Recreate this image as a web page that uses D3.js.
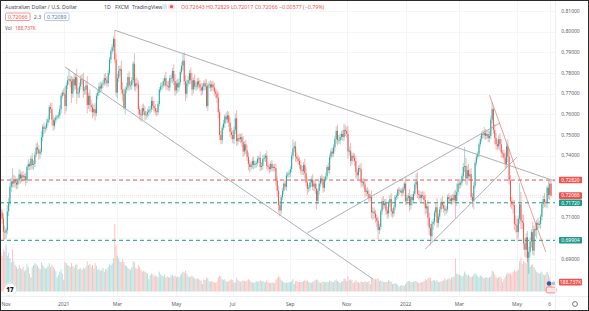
<!DOCTYPE html>
<html>
<head>
<meta charset="utf-8">
<script src="https://cdn.jsdelivr.net/npm/d3@7"></script>
<style>
  html, body { margin: 0; padding: 0; background: #fff; }
  svg { display: block; font-family: "Noto Sans", Roboto, sans-serif; }
</style>
</head>
<body>
<svg id="chart" width="589" height="311"></svg>
<script>
// AUD/USD daily, FXCM. prices in pips (x10000), one value per weekday from startDate
const startDate = "2020-10-27";
const firstOpen = 7135;

const closes = [
  7125,7095,7032,7028,                                                                   // Oct 20
  7040,7130,7170,7250,7275,7265,7285,7270,7260,7280,7310,7290,7305,7295,7300,7280,7345,7360,7350,7385,7355, // Nov
  7360,7405,7440,7430,7410,7420,7490,7540,7530,7535,7560,7575,7635,7625,7575,7545,7570,7585,7590,7595,7625,7690,7705, // Dec
  7700,7640,7740,7765,7770,7760,7700,7770,7740,7780,7700,7705,7735,7770,7765,7715,7720,7740,7645,7690,7645, // Jan 21
  7635,7610,7625,7605,7690,7705,7735,7725,7745,7750,7775,7765,7750,7800,7865,7905,7925,7965,7865,7705, // Feb
  7775,7810,7820,7720,7700,7630,7720,7730,7780,7740,7740,7765,7845,7735,7750,7745,7625,7600,7595,7630,7615,7595,7600, // Mar
  7610,7620,7625,7665,7640,7630,7615,7610,7650,7720,7735,7740,7760,7775,7740,7735,7730,7775,7775,7810,7760,7715, // Apr
  7750,7730,7755,7805,7835,7860,7760,7700,7750,7765,7800,7765,7720,7765,7735,7735,7760,7745,7730,7715,7735, // May
  7750,7735,7640,7740,7745,7730,7745,7730,7710,7700,7680,7610,7500,7475,7535,7555,7590,7575,7595,7560,7515,7500, // Jun
  7480,7525,7580,7470,7485,7480,7490,7465,7420,7455,7425,7395,7360,7345,7355,7375,7355,7360,7365,7385,7390,7345, // Jul
  7350,7385,7390,7400,7350,7345,7335,7360,7340,7345,7340,7280,7230,7160,7135,7200,7230,7265,7250,7305,7310,7315, // Aug
  7335,7400,7435,7445,7395,7385,7375,7355,7330,7325,7355,7315,7270,7240,7245,7270,7285,7250,7265,7240,7180,7230, // Sep
  7265,7290,7275,7245,7285,7300,7345,7330,7395,7420,7410,7440,7480,7520,7475,7475,7490,7505,7490,7525,7520, // Oct
  7505,7420,7425,7375,7400,7390,7375,7320,7305,7340,7335,7270,7275,7260,7225,7230,7215,7195,7200,7125,7130,7120, // Nov
  7100,7085,7040,7055,7130,7180,7160,7170,7135,7120,7170,7190,7130,7120,7150,7200,7205,7235,7230,7230,7220,7240,7265, // Dec
  7180,7195,7205,7160,7200,7185,7215,7260,7275,7215,7210,7195,7210,7205,7185,7145,7155,7100,7050,7010,7070, // Jan 22
  7080,7125,7150,7075,7105,7140,7175,7160,7145,7135,7140,7200,7190,7180,7195,7185,7210,7180,7225,7265, // Feb
  7260,7270,7300,7345,7350,7290,7330,7300,7310,7200,7180,7255,7365,7395,7410,7455,7480,7505,7500,7510,7495,7505,7485, // Mar
  7495,7575,7625,7525,7485,7455,7445,7480,7455,7415,7410,7390,7360,7445,7395,7280,7180,7165,7160,7070,7065, // Apr
  7030,7095,7165,7085,7075,6975,6945,7005,6905,6935,6985,7030,6940,7045,7040,7075,7065,7070,7105,7165,7190,7175, // May
  7170,7245,7210,7264.3,7206.6                                                            // Jun
];

const upperWicks = [
  20,15,25,30,
  12,30,25,20,18,65,22,15,20,14,25,18,15,20,12,18,10,22,12,15,28,
  18,14,20,25,22,15,28,12,20,14,18,16,10,22,30,20,14,12,8,15,18,12,10,
  20,35,14,22,50,18,25,12,30,15,40,22,18,20,25,35,14,20,45,15,30,
  25,18,22,30,12,15,18,22,14,16,20,25,18,15,12,10,15,12,42,30,
  20,25,15,40,35,25,15,22,18,28,20,15,12,50,25,28,20,15,20,18,22,25,15,
  18,20,15,20,22,25,20,15,14,12,18,16,14,15,30,20,28,15,18,14,30,35,
  15,22,18,14,18,31,40,30,18,20,15,28,35,14,30,20,15,18,22,20,15,
  14,20,35,12,15,20,14,18,22,15,20,30,15,20,12,18,10,20,22,18,25,20,
  22,15,25,40,18,22,15,20,30,15,22,25,20,18,14,16,22,15,12,14,10,30,
  18,20,15,12,25,18,15,12,20,14,15,22,20,25,20,12,14,10,18,15,12,14,
  12,15,43,18,25,20,15,18,22,20,15,30,28,20,14,18,15,25,15,20,25,12,
  15,12,20,25,14,18,10,20,12,14,18,15,14,20,30,25,18,15,20,31,22,
  20,40,18,35,15,14,20,25,15,12,18,30,14,18,25,15,18,20,14,30,20,18,
  18,14,20,15,10,18,25,20,22,18,14,20,30,15,12,10,12,8,14,10,15,12,10,
  30,15,14,35,12,15,14,12,39,45,18,20,15,18,22,28,15,30,25,20,15,
  14,12,20,45,15,12,18,30,20,18,15,12,20,18,14,20,18,25,40,12,
  20,15,14,20,91,40,22,30,25,30,20,15,12,14,12,10,15,12,18,30,20,15,20,
  25,18,36,10,30,25,22,18,30,25,12,20,25,14,35,40,25,20,22,25,40,
  30,15,101,60,30,40,25,20,30,25,18,15,50,15,30,14,25,15,12,10,15,30,
  12,10,35,12,18.6
];

const lowerWicks = [
  18,25,40,38,
  30,20,22,15,25,20,18,25,22,20,15,25,18,20,15,25,12,15,20,18,20,
  25,15,12,20,30,25,15,20,25,18,12,15,14,20,28,25,18,14,10,12,15,20,14,
  12,40,25,18,20,30,45,20,25,18,50,20,25,15,18,35,20,25,40,20,30,
  25,30,20,35,15,18,14,20,15,18,12,25,20,15,10,18,14,20,15,20,
  30,20,25,20,35,8,30,18,15,25,20,22,14,20,25,20,30,25,30,22,18,25,20,
  15,20,18,15,20,22,18,20,15,12,14,18,15,25,20,18,15,20,22,25,18,25,
  18,25,20,15,12,20,18,35,22,15,20,18,30,20,15,22,15,20,18,25,20,
  20,18,10,25,14,20,18,15,20,22,25,30,25,20,18,12,20,15,18,22,25,20,
  20,25,20,25,18,15,20,22,25,20,18,20,30,25,15,18,20,15,18,14,20,20,
  15,18,14,20,15,18,20,14,15,18,15,25,30,35,29,20,15,18,14,20,12,15,
  20,15,18,20,25,15,18,20,22,18,20,25,20,30,18,15,20,18,22,25,40,15,
  20,18,15,25,20,12,18,15,20,14,18,15,20,22,25,18,20,15,18,20,25,
  18,35,20,25,18,20,25,30,18,20,15,25,20,18,25,20,18,25,15,30,35,25,
  25,30,47,20,15,18,20,15,22,25,20,18,25,20,15,12,15,14,20,12,18,15,12,
  20,18,15,30,20,25,14,12,18,20,22,18,20,15,25,30,25,40,35,43,25,
  30,18,20,25,20,15,14,18,20,25,18,15,20,15,18,20,15,85,25,15,
  20,18,15,20,25,30,35,20,18,15,30,40,15,12,14,18,12,15,14,20,18,15,20,
  20,15,18,20,30,25,20,15,30,25,20,18,25,20,25,20,30,25,40,30,35,
  45,30,25,40,30,30,35,40,20,77,25,30,20,25,30,40,20,15,25,18,20,25,
  20,25,20,25,4.9
];

// volume in thousands
const volumes = [
  820,760,900,850,
  980,760,820,700,620,900,640,560,520,480,560,500,470,520,430,460,580,520,380,300,520,
  560,600,580,540,500,470,620,560,520,480,500,540,600,520,560,520,480,430,300,350,420,480,380,
  250,620,600,560,540,520,600,540,500,560,580,460,480,500,460,500,480,520,640,560,580,
  520,560,480,600,540,460,480,440,460,500,420,480,460,520,580,560,600,700,1430,980,
  760,700,640,620,680,620,560,540,500,480,460,520,640,620,500,480,560,520,460,420,440,420,400,
  380,260,340,380,360,320,340,320,300,420,360,330,320,360,300,320,300,300,340,360,320,340,
  300,320,300,340,380,420,400,440,380,320,300,320,340,300,280,260,280,260,240,220,160,
  260,240,300,280,220,200,220,200,200,180,200,300,340,320,260,240,260,220,200,220,240,260,
  240,180,200,280,240,220,200,220,240,220,220,240,260,240,200,200,180,200,220,200,220,240,
  220,220,200,200,240,200,180,180,200,180,180,240,280,320,300,240,220,200,180,200,180,200,
  200,220,260,160,220,220,200,200,200,200,220,240,220,240,200,200,180,200,220,240,260,240,
  200,180,200,220,200,200,200,200,240,220,200,200,240,260,220,200,180,200,220,280,260,
  220,320,240,260,240,180,200,240,200,200,180,220,200,200,220,200,200,220,160,300,280,260,
  260,260,280,220,240,220,200,200,200,200,240,220,200,160,160,180,160,140,100,120,130,130,120,
  160,200,220,220,200,200,200,220,220,200,180,180,200,200,220,260,240,280,300,280,220,
  240,240,220,240,200,200,220,220,240,280,240,260,280,260,300,300,320,700,380,360,
  360,340,320,340,420,380,340,360,320,300,320,360,380,360,320,300,340,320,300,280,300,300,280,
  300,320,440,420,360,300,280,300,320,280,200,260,320,360,400,380,380,360,420,460,420,
  440,460,640,720,580,640,620,600,840,700,520,560,580,520,460,420,400,380,400,420,360,340,
  380,420,360,300,188.737
];

const tickDates  = ["2020-11-02","2021-01-01","2021-03-01","2021-05-03","2021-07-01","2021-09-01",
                    "2021-11-01","2022-01-03","2022-03-01","2022-05-02","2022-06-06"];
const tickLabels = ["Nov","2021","Mar","May","Jul","Sep","Nov","2022","Mar","May","6"];
const priceTicks = [0.69,0.70,0.71,0.72,0.73,0.74,0.75,0.76,0.77,0.78,0.79,0.80,0.81];

// horizontal levels drawn on the chart
const levelPrices = [0.72820, 0.71720, 0.69904];
const levelKinds  = ["down", "up", "up"];

// trend lines: [date, price] pairs
const trendLines = [
  [["2021-02-25", 0.8007], ["2022-06-10", 0.7277]],
  [["2021-01-04", 0.7829], ["2021-11-29", 0.6803]],
  [["2021-09-20", 0.7026], ["2022-04-13", 0.7558]],
  [["2022-01-24", 0.6948], ["2022-05-02", 0.7393]],
  [["2022-04-01", 0.7693], ["2022-06-01", 0.6934]]
];
const trendKinds = ["gray","gray","gray","gray","red"];

const askPrice = 0.72089, spread = "2.3";

// ---------------------------------------------------------------------------
const W = 589, H = 311;
const plotRight = 555, plotBottom = 296;
const upColor = "#26a69a", downColor = "#ef5350";

function dayUTC(s) { return new Date(s + "T00:00:00Z"); }
function barIndex(s) {
  const t = dayUTC(s);
  let n = 0;
  for (let d = dayUTC(startDate); d < t; d.setUTCDate(d.getUTCDate() + 1)) {
    const w = d.getUTCDay();
    if (w !== 0 && w !== 6) n++;
  }
  return n;
}

const bars = closes.map((c, i) => {
  const o = i === 0 ? firstOpen : closes[i - 1];
  return {
    i, o: o / 1e4, c: c / 1e4,
    h: (Math.max(o, c) + upperWicks[i]) / 1e4,
    l: (Math.min(o, c) - lowerWicks[i]) / 1e4,
    v: volumes[i]
  };
});
const last = bars[bars.length - 1];

const x = d3.scaleLinear().domain([-0.6, 423]).range([0, plotRight]);
const y = d3.scaleLinear().domain([0.69, 0.81]).range([259, 11]);
const yv = d3.scaleLinear().domain([0, 1430]).range([291.5, 224]);
const fmt = d3.format(".5f");

const svg = d3.select("#chart");
svg.append("rect").attr("width", W).attr("height", H).attr("fill", "#fff");

svg.append("defs").append("clipPath").attr("id", "plot")
  .append("rect").attr("x", 0).attr("y", 0).attr("width", plotRight).attr("height", plotBottom);

const plot = svg.append("g").attr("clip-path", "url(#plot)");

// faint grid
plot.selectAll(".hg").data(priceTicks).enter().append("line")
  .attr("x1", 0).attr("x2", plotRight)
  .attr("y1", d => Math.round(y(d)) + 0.5).attr("y2", d => Math.round(y(d)) + 0.5)
  .attr("stroke", "#f4f5f7").attr("stroke-width", 1);
plot.selectAll(".vg").data(tickDates).enter().append("line")
  .attr("x1", d => Math.round(x(barIndex(d))) + 0.5).attr("x2", d => Math.round(x(barIndex(d))) + 0.5)
  .attr("y1", 0).attr("y2", plotBottom)
  .attr("stroke", "#f4f5f7").attr("stroke-width", 1);

// volume
plot.selectAll(".vol").data(bars).enter().append("rect")
  .attr("x", d => x(d.i) - 0.5).attr("width", 1)
  .attr("y", d => yv(d.v)).attr("height", d => yv(0) - yv(d.v))
  .attr("fill", d => d.c >= d.o ? upColor : downColor)
  .attr("opacity", 0.35);

// levels
plot.selectAll(".lvl").data(levelPrices).enter().append("line")
  .attr("x1", 0).attr("x2", plotRight)
  .attr("y1", d => y(d)).attr("y2", d => y(d))
  .attr("stroke", (d, k) => levelKinds[k] === "up" ? "#1e9a88" : "#e05454")
  .attr("stroke-width", 1).attr("stroke-dasharray", "4,3");

// last price line
plot.append("line")
  .attr("x1", 0).attr("x2", plotRight).attr("y1", y(last.c)).attr("y2", y(last.c))
  .attr("stroke", downColor).attr("stroke-opacity", 0.3).attr("stroke-width", 0.7)
  .attr("stroke-dasharray", "1,1");

// candles
const cg = plot.selectAll(".bar").data(bars).enter().append("g")
  .attr("fill", d => d.c >= d.o ? upColor : downColor)
  .attr("stroke", d => d.c >= d.o ? upColor : downColor);
cg.append("line")
  .attr("x1", d => x(d.i)).attr("x2", d => x(d.i))
  .attr("y1", d => y(d.h)).attr("y2", d => y(d.l))
  .attr("stroke-width", 0.55).attr("stroke-opacity", 0.8);
cg.append("rect")
  .attr("x", d => x(d.i) - 0.5).attr("width", 1)
  .attr("y", d => y(Math.max(d.o, d.c)))
  .attr("height", d => Math.max(0.7, Math.abs(y(d.o) - y(d.c))))
  .attr("stroke", "none");

// trend lines
plot.selectAll(".trend").data(trendLines).enter().append("line")
  .attr("x1", d => x(barIndex(d[0][0]))).attr("y1", d => y(d[0][1]))
  .attr("x2", d => x(barIndex(d[1][0]))).attr("y2", d => y(d[1][1]))
  .attr("stroke", (d, k) => trendKinds[k] === "red" ? "rgba(226,110,110,0.75)" : "#a3a6ab")
  .attr("stroke-width", 0.9);

// event markers near the last bar
const lx = x(last.i);
svg.append("circle").attr("cx", lx - 2).attr("cy", 283.5).attr("r", 2.3).attr("fill", "#35598e");
svg.append("circle").attr("cx", lx + 2.5).attr("cy", 283.5).attr("r", 2.1).attr("fill", "#b9bfd6");
svg.append("rect").attr("x", lx - 5).attr("y", 287).attr("width", 10).attr("height", 6).attr("rx", 2)
  .attr("fill", "#fbe4e4").attr("stroke", downColor).attr("stroke-width", 0.6);

// axes frame
svg.append("line").attr("x1", plotRight + 0.5).attr("x2", plotRight + 0.5).attr("y1", 0).attr("y2", H)
  .attr("stroke", "#eceef2");
svg.append("line").attr("x1", 0).attr("x2", W).attr("y1", plotBottom + 0.5).attr("y2", plotBottom + 0.5)
  .attr("stroke", "#eceef2");

// price axis labels with colored boxes
const boxes = [
  { v: levelPrices[0], t: fmt(levelPrices[0]), c: "#ef5350" },
  { v: last.c, t: fmt(last.c), c: "#ef5350" },
  { v: levelPrices[1], t: fmt(levelPrices[1]), c: "#1e9a88" },
  { v: levelPrices[2], t: fmt(levelPrices[2]), c: "#1e9a88" }
];
const boxYs = boxes.map(b => y(b.v));
priceTicks.filter(p => boxYs.every(by => Math.abs(by - y(p)) > 6)).forEach(p => {
  svg.append("text").attr("x", 570.5).attr("y", y(p) + 1.8)
    .attr("text-anchor", "middle").attr("font-size", 5).attr("fill", "#5d606b")
    .text(fmt(p));
});
function axisBox(cy, txt, col) {
  svg.append("rect").attr("x", 559).attr("y", cy - 3.3).attr("width", 23).attr("height", 6.6)
    .attr("rx", 0.8).attr("fill", col);
  svg.append("text").attr("x", 570.5).attr("y", cy + 1.8).attr("text-anchor", "middle")
    .attr("font-size", 5).attr("fill", "#fff").text(txt);
}
boxes.forEach(b => axisBox(y(b.v), b.t, b.c));
axisBox(yv(last.v) - 0.5, d3.format(".3f")(last.v) + "K", "#ef5350");

// time axis
tickDates.forEach((d, k) => {
  svg.append("text").attr("x", x(barIndex(d))).attr("y", 305.5)
    .attr("text-anchor", "middle").attr("font-size", 5).attr("fill", "#5d606b")
    .text(tickLabels[k]);
});
// settings gear
svg.append("circle").attr("cx", 575).attr("cy", 304).attr("r", 2.4)
  .attr("fill", "none").attr("stroke", "#555").attr("stroke-width", 0.8);

// TV logo
svg.append("circle").attr("cx", 10).attr("cy", 289.5).attr("r", 6.3)
  .attr("fill", "#fff").attr("stroke", "#e3e3e3").attr("stroke-width", 0.6);
svg.append("text").attr("x", 10).attr("y", 291.8).attr("text-anchor", "middle")
  .attr("font-size", 6.2).attr("font-weight", 900).attr("fill", "#131722").text("17");

// legend
const fs = 5.3;
const head = svg.append("g").attr("font-size", fs).attr("fill", "#43464f");
head.append("text").attr("x", 5).attr("y", 9).text("Australian Dollar / U.S. Dollar");
head.append("text").attr("x", 104).attr("y", 9).text("1D");
head.append("text").attr("x", 115).attr("y", 9).text("FXCM");
head.append("text").attr("x", 132).attr("y", 9).text("TradingView");
svg.append("rect").attr("x", 162).attr("y", 4.2).attr("width", 5).attr("height", 5).attr("rx", 1)
  .attr("fill", "#d7ece9");
svg.append("rect").attr("x", 168).attr("y", 4).attr("width", 7).attr("height", 5.5).attr("rx", 2.5)
  .attr("fill", "#fbe1e1");
svg.append("circle").attr("cx", 171.5).attr("cy", 6.7).attr("r", 1.6).attr("fill", "#ef5350");

const chg = last.c - last.o;
svg.append("text").attr("x", 181).attr("y", 9).attr("font-size", fs).attr("fill", "#ef5350")
  .text(`O${fmt(last.o)} H${fmt(last.h)} L${fmt(last.l)} C${fmt(last.c)} ${fmt(chg).replace("-", "\u2212")} (${d3.format(".2f")(chg / last.o * 100).replace("-", "\u2212")}%)`);

svg.append("rect").attr("x", 5.5).attr("y", 13).attr("width", 24.5).attr("height", 7.5).attr("rx", 1.2)
  .attr("fill", "#fff").attr("stroke", "#ef5350").attr("stroke-width", 0.6);
svg.append("text").attr("x", 17.75).attr("y", 18.6).attr("text-anchor", "middle")
  .attr("font-size", fs).attr("fill", "#ef5350").text(fmt(last.c));
svg.append("text").attr("x", 37.5).attr("y", 18.6).attr("text-anchor", "middle")
  .attr("font-size", fs).attr("fill", "#5d606b").text(spread);
svg.append("rect").attr("x", 44.5).attr("y", 13).attr("width", 24.5).attr("height", 7.5).attr("rx", 1.2)
  .attr("fill", "#fff").attr("stroke", "#8fa6c8").attr("stroke-width", 0.6);
svg.append("text").attr("x", 56.75).attr("y", 18.6).attr("text-anchor", "middle")
  .attr("font-size", fs).attr("fill", "#5b7bb0").text(fmt(askPrice));

svg.append("text").attr("x", 5).attr("y", 29.5).attr("font-size", 4.8).attr("fill", "#5d606b").text("Vol");
svg.append("text").attr("x", 15).attr("y", 29.5).attr("font-size", 4.8).attr("fill", "#ef5350")
  .text(d3.format(".3f")(last.v) + "K");

// outer frame
svg.append("rect").attr("x", 0.5).attr("y", 0.5).attr("width", W - 1).attr("height", H - 1)
  .attr("fill", "none").attr("stroke", "#2a2a2a").attr("stroke-width", 1);
</script>
</body>
</html>
